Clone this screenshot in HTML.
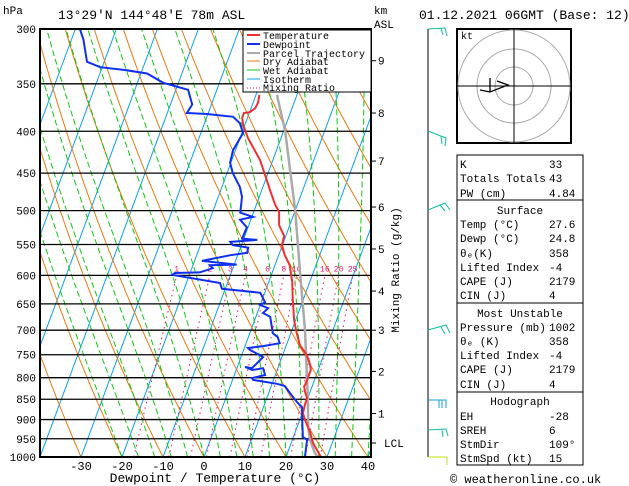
<!DOCTYPE html>
<html><head><meta charset="utf-8"><style>
body{margin:0;background:#fff;}
svg{display:block;font-family:"Liberation Mono","DejaVu Sans Mono",monospace;}
</style></head><body>
<svg id="c" width="629" height="486" viewBox="0 0 629 486">
<defs><clipPath id="plotclip"><rect x="40" y="29" width="331" height="428"/></clipPath></defs>
<g id="bg" clip-path="url(#plotclip)"></g>
<g id="prof" clip-path="url(#plotclip)"></g>
<g id="ax"></g>
</svg>
<script>
// ---- data ----
const isobars=[300,350,400,450,500,550,600,650,700,750,800,850,900,950,1000];
const xTicks=[-30,-20,-10,0,10,20,30,40];
const kmLabels=["9","8","7","6","5","4","3","2","1"];
const kmPres=[328,380,435,495,557,627,700,786,885];
const mixRatios=[1,2,3,4,6,8,10,16,20,25];
const mixLabels=["1","2","3","4","6","8","10","16","20","25"];
const tempP=[1000,961,932,901,884,864,847,833,821,805,783,772,751,730,700,680,643,611,583,567,551,537,521,502,492,472,452,434,422,408,393,385,380,379,375,369,361];
const tempT=[28.5,25.3,23.6,21.3,20.2,19.9,19.8,18.8,18.1,18.2,18.2,17.6,15.9,13.3,11,9.6,7.5,5.7,3.6,1.5,-0.1,-0.4,-2.6,-3.8,-5.4,-8,-10.6,-13.1,-15.3,-18,-20.4,-21.3,-21.3,-19.9,-19,-18.8,-19.2];
const dewP=[1000,953,945,901,869,859,845,819,814,805,801,794,779,783,776,779,755,740,736,732,726,714,706,674,667,658,652,647,630,629,623,613,599,596,595,588,583,582,576,567,563,555,551,546,543,541,524,513,509,503,481,468,450,437,422,402,391,384,381,380,371,356,349,340,337,334,329,309,300];
const dewT=[24.6,23.6,22.3,20.6,19.4,18,16.3,13.3,11.2,5,4.6,7.5,6.4,3.9,1.9,3.7,5.4,1.6,0.9,4.4,8.2,7.2,5.6,3.5,1.4,2.2,0,0.9,-1.1,-2.4,-10.8,-11.8,-24.2,-23.7,-17.7,-14.9,-15.9,-9.4,-18.2,-11.9,-7.9,-8.1,-12.1,-13,-6.6,-10.4,-10.3,-12.6,-9.7,-13.2,-14.2,-15.6,-18.6,-20.2,-20.6,-19.7,-21.4,-23.6,-30.2,-35.2,-34.7,-37,-43.7,-48.5,-53.7,-60.5,-64.2,-67.1,-68.9];
const parcelP=[1000,989,953,919,852,700,600,500,400,361];
const parcelT=[27.8,26.7,24.3,22.7,20.2,13.2,7.1,0,-9.6,-14.9];
// ---- scales ----
const Y0=29,Y1=457,LN=Math.log(1000/300);
function yP(p){return Y0+(Y1-Y0)*Math.log(p/300)/LN;}
function xT(T,p){return 204+4.1*T+0.37*(Y1-yP(p));}
const NS="http://www.w3.org/2000/svg";
function mk(par,tag,at){const e=document.createElementNS(NS,tag);for(const k in at)e.setAttribute(k,at[k]);par.appendChild(e);return e;}
const bg=document.getElementById('bg'),prof=document.getElementById('prof'),ax=document.getElementById('ax');
function poly(par,pts,st){return mk(par,'polyline',Object.assign({points:pts.map(a=>a[0].toFixed(1)+','+a[1].toFixed(1)).join(' '),fill:'none'},st));}
// isotherms
for(let T=-110;T<=40;T+=10){const l=mk(bg,'line',{x1:xT(T,1000),y1:yP(1000),x2:xT(T,300),y2:yP(300),stroke:'#0aa0f0','stroke-width':1});
}
// dry adiabats
for(let th=-40;th<=220;th+=10){const pts=[];for(let p=1000;p>=300;p-=10){const T=(th+273.15)*Math.pow(p/1000,0.286)-273.15;pts.push([xT(T,p),yP(p)]);}
const l=poly(bg,pts,{stroke:'#e87a10','stroke-width':1});}
// wet adiabats
function es(T){return 6.112*Math.exp(17.67*T/(T+243.5));}
for(let tw=-20;tw<=40;tw+=4){const pts=[];let T=tw;for(let p=1000;p>=300;p-=2){pts.push([xT(T,p),yP(p)]);const Tk=T+273.15;const rs=0.622*es(T)/(p-es(T));const d=(287*Tk+2.5e6*rs)/(p*(1004+2.5e6*2.5e6*rs*0.622/(287*Tk*Tk)));T-=d*2;}
const l=poly(bg,pts,{stroke:'#10c810','stroke-width':1,'stroke-dasharray':'6,3'});}
// mixing ratio
mixRatios.forEach((w,i)=>{const pts=[];for(let p=1000;p>=600;p-=10){const e=w*p/(622+w);const L=Math.log(e/6.112);const T=243.5*L/(17.67-L);pts.push([xT(T,p),yP(p)]);}
const l=poly(bg,pts,{stroke:'#e8106e','stroke-width':1,'stroke-dasharray':'1.5,4'});
const t=mk(bg,'text',{x:pts[pts.length-1][0],y:yP(600)-4,fill:'#e8106e','font-size':8,'text-anchor':'middle'});t.textContent=mixLabels[i];
});
// isobars
isobars.forEach(p=>{const l=mk(bg,'line',{x1:40,x2:371,y1:yP(p),y2:yP(p),stroke:'#000','stroke-width':1.3});});
// profiles
let l;
l=poly(prof,parcelP.map((p,i)=>[xT(parcelT[i],p),yP(p)]),{stroke:'#aaa','stroke-width':2.5});
l=poly(prof,tempP.map((p,i)=>[xT(tempT[i],p),yP(p)]),{stroke:'#f03030','stroke-width':2});
l=poly(prof,dewP.map((p,i)=>[xT(dewT[i],p),yP(p)]),{stroke:'#1030f0','stroke-width':2});
// frame
const fr=mk(ax,'rect',{x:40,y:29,width:331,height:428,fill:'none',stroke:'#000','stroke-width':2});
isobars.forEach(p=>{const t=mk(ax,'text',{x:36,y:yP(p)+4,'font-size':11,'text-anchor':'end'});t.textContent=p;});
xTicks.forEach(T=>{const t=mk(ax,'text',{x:xT(T,1000),y:470,'font-size':12,'text-anchor':'middle'});t.textContent=T;});
kmPres.forEach((p,i)=>{const y=yP(p);mk(ax,'line',{x1:371,x2:376,y1:y,y2:y,stroke:'#000'});const t=mk(ax,'text',{x:378,y:y+4,'font-size':11});t.textContent=kmLabels[i];});
</script>
<svg style="position:absolute;left:0;top:0" width="629" height="486" font-family="Liberation Mono, DejaVu Sans Mono, monospace">
<text x="3" y="14" font-size="11">hPa</text>
<text x="58" y="19" font-size="13">13°29'N 144°48'E 78m ASL</text>
<text x="374" y="14" font-size="11">km</text>
<text x="374" y="28" font-size="11">ASL</text>
<text x="419" y="19" font-size="13">01.12.2021 06GMT (Base: 12)</text>
<line x1="371" y1="443" x2="376" y2="443" stroke="#000"/>
<text x="384" y="447" font-size="11">LCL</text>
<text transform="translate(399,270) rotate(-90)" font-size="11" text-anchor="middle">Mixing Ratio (g/kg)</text>
<text x="215" y="482" font-size="13" text-anchor="middle">Dewpoint / Temperature (°C)</text>
<g font-size="10">
<rect x="243" y="30" width="128" height="62" fill="#fff" stroke="#000"/>
<line x1="247" y1="35" x2="260" y2="35" stroke="#f03030" stroke-width="2"/><text x="263" y="39">Temperature</text>
<line x1="247" y1="44" x2="260" y2="44" stroke="#1030f0" stroke-width="2"/><text x="263" y="48">Dewpoint</text>
<line x1="247" y1="53" x2="260" y2="53" stroke="#aaa" stroke-width="2"/><text x="263" y="57">Parcel Trajectory</text>
<line x1="247" y1="61" x2="260" y2="61" stroke="#e87a10"/><text x="263" y="65">Dry Adiabat</text>
<line x1="247" y1="70" x2="260" y2="70" stroke="#10c810"/><text x="263" y="74">Wet Adiabat</text>
<line x1="247" y1="79" x2="260" y2="79" stroke="#0aa0f0"/><text x="263" y="83">Isotherm</text>
<line x1="247" y1="88" x2="260" y2="88" stroke="#e8106e" stroke-dasharray="1,2"/><text x="263" y="91">Mixing Ratio</text>
</g>
<g stroke-width="1">
<line x1="428" y1="29" x2="428" y2="457" stroke="#000"/>
<path d="M428,29 L445,28 L447,36 M441,28 L443,35" stroke="#10c0a0" fill="none"/>
<path d="M428,131 L446,138 L445,146 M441,136 L442,144" stroke="#10c0a0" fill="none"/>
<path d="M428,210 L445,203 L450,210 M440,205 L445,211" stroke="#10c0a0" fill="none"/>
<path d="M428,330 L446,325 L450,333 M441,327 L445,334" stroke="#10c0a0" fill="none"/>
<path d="M428,400 L446,400 L446,408 M442,400 L442,408 M439,400 L439,408" stroke="#10a0e0" fill="none"/>
<path d="M428,430 L446,429 L448,436 M442,430 L443,437" stroke="#10c0a0" fill="none"/>
<path d="M428,457 L447,457 L447,465" stroke="#c0e010" fill="none"/>
</g>
<g>
<rect x="457" y="29" width="114" height="114" fill="#fff" stroke="#000" stroke-width="2"/>
<circle cx="514" cy="86" r="19" fill="none" stroke="#aaa"/>
<circle cx="514" cy="86" r="37" fill="none" stroke="#aaa"/>
<circle cx="514" cy="86" r="56" fill="none" stroke="#aaa"/>
<line x1="457" y1="86" x2="571" y2="86" stroke="#000"/><line x1="514" y1="29" x2="514" y2="143" stroke="#000"/>
<text x="461" y="39" font-size="10">kt</text>
<path d="M490,78 L490,92 M480,90 L490,92 L508,85 L497,81" stroke="#000" fill="none" stroke-width="1.3"/>
</g>
<g font-size="11">
<rect x="457" y="155" width="126" height="310" fill="none" stroke="#000"/>
<line x1="457" y1="200" x2="583" y2="200" stroke="#000"/><line x1="457" y1="303" x2="583" y2="303" stroke="#000"/><line x1="457" y1="392" x2="583" y2="392" stroke="#000"/>
<text x="460" y="168">K</text><text x="549" y="168">33</text>
<text x="460" y="182">Totals Totals</text><text x="549" y="182">43</text>
<text x="460" y="197">PW (cm)</text><text x="549" y="197">4.84</text>
<text x="520" y="214" text-anchor="middle">Surface</text>
<text x="460" y="228">Temp (°C)</text><text x="549" y="228">27.6</text>
<text x="460" y="242">Dewp (°C)</text><text x="549" y="242">24.8</text>
<text x="460" y="257">θₑ(K)</text><text x="549" y="257">358</text>
<text x="460" y="271">Lifted Index</text><text x="549" y="271">-4</text>
<text x="460" y="285">CAPE (J)</text><text x="549" y="285">2179</text>
<text x="460" y="299">CIN (J)</text><text x="549" y="299">4</text>
<text x="520" y="317" text-anchor="middle">Most Unstable</text>
<text x="460" y="331">Pressure (mb)</text><text x="549" y="331">1002</text>
<text x="460" y="345">θₑ (K)</text><text x="549" y="345">358</text>
<text x="460" y="359">Lifted Index</text><text x="549" y="359">-4</text>
<text x="460" y="373">CAPE (J)</text><text x="549" y="373">2179</text>
<text x="460" y="388">CIN (J)</text><text x="549" y="388">4</text>
<text x="520" y="405" text-anchor="middle">Hodograph</text>
<text x="460" y="420">EH</text><text x="549" y="420">-28</text>
<text x="460" y="434">SREH</text><text x="549" y="434">6</text>
<text x="460" y="448">StmDir</text><text x="549" y="448">109°</text>
<text x="460" y="462">StmSpd (kt)</text><text x="549" y="462">15</text>
</g>
<text x="450" y="483" font-size="12">© weatheronline.co.uk</text>
</svg>
</body></html>
